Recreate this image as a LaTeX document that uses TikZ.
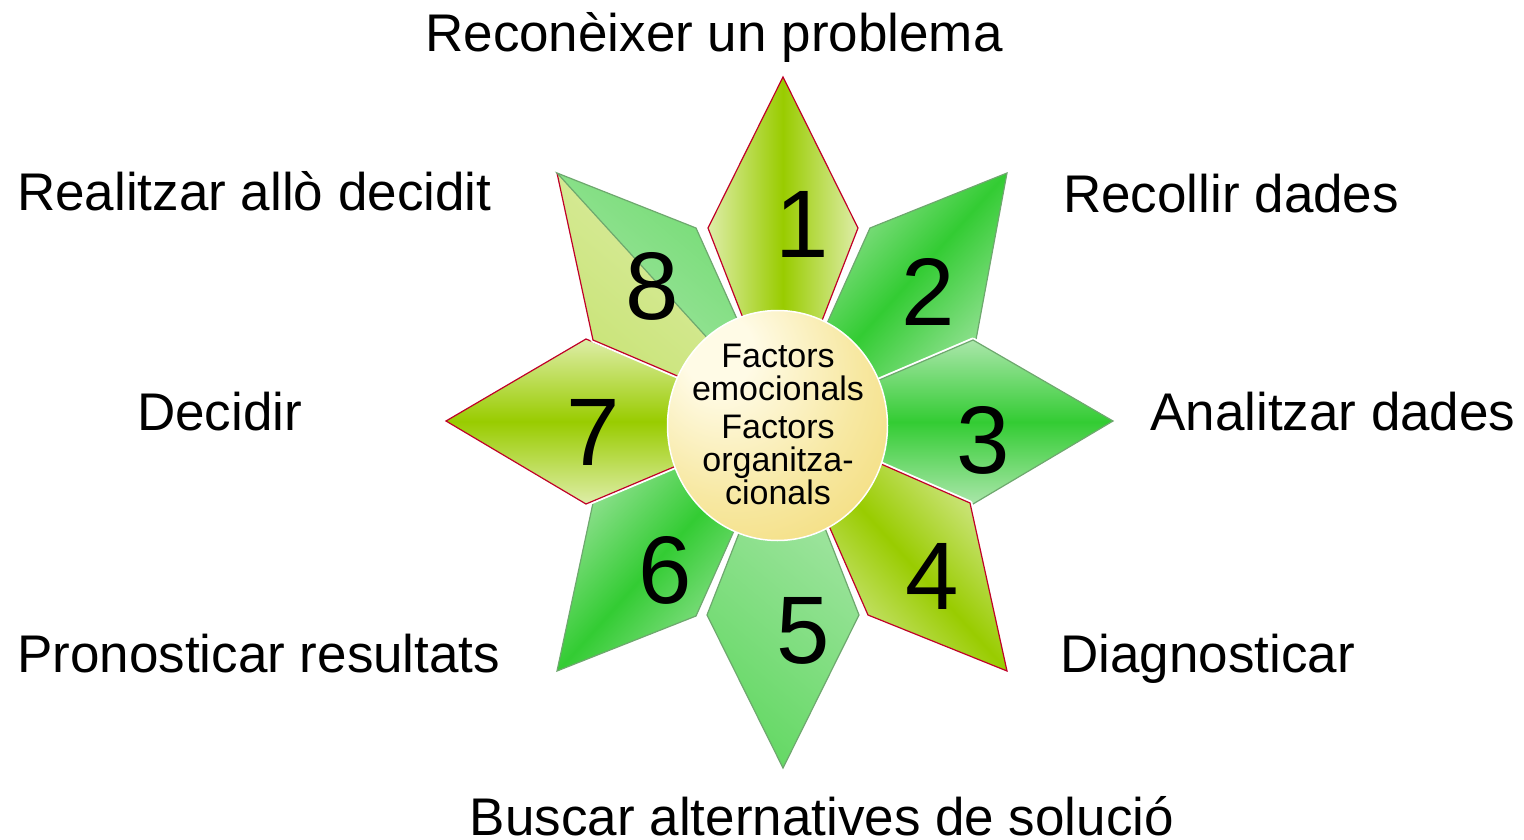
\documentclass[tikz,border=0pt]{standalone}
\usepackage{fontspec}
\setmainfont{Liberation Sans}
\definecolor{jaunevif}{RGB}{153,204,0}
\definecolor{jauneclair}{RGB}{222,237,168}
\definecolor{vertvif}{RGB}{51,204,51}
\definecolor{vertclair}{RGB}{170,230,170}
\definecolor{rougebord}{RGB}{192,0,40}
\definecolor{vertbord}{RGB}{110,168,110}
\definecolor{orclair}{RGB}{255,251,230}
\definecolor{ormoyen}{RGB}{247,232,162}
\definecolor{orfonce}{RGB}{240,210,88}
\pgfdeclareradialshading{soleil}{\pgfpoint{-15bp}{18bp}}{color(0bp)=(orclair);color(8bp)=(orclair);color(28bp)=(ormoyen);color(56bp)=(orfonce);color(80bp)=(orfonce)}
\begin{document}
\begin{tikzpicture}[x=1pt,y=-1pt]
% Styles
\tikzstyle{liseret}=[draw=white,line width=5pt,line join=round]
\tikzstyle{bord}=[line width=1.2pt,line join=miter]
\tikzstyle{jaune}=[bord,draw=rougebord,top color=jauneclair,bottom color=jauneclair,middle color=jaunevif]
\tikzstyle{vert}=[bord,draw=vertbord,top color=vertclair,bottom color=vertclair,middle color=vertvif]
\tikzstyle{chiffre}=[inner sep=0pt,font=\fontsize{96}{96}\selectfont]
\tikzstyle{etape}=[inner sep=0pt,font=\fontsize{53}{60}\selectfont]
\useasboundingbox (0,0) rectangle (1524,840);
% Centre
\coordinate (C) at (783,421);
% Pointes et coins des pétales
\coordinate (p1) at (783,77);   \coordinate (p1a) at (708,228); \coordinate (p1b) at (858,228);
\coordinate (p2) at (1007,173); \coordinate (p2a) at (870,228); \coordinate (p2b) at (975,345);
\coordinate (p3) at (1113,421); \coordinate (p3a) at (973,340); \coordinate (p3b) at (973,504);
\coordinate (p4) at (1007,671); \coordinate (p4a) at (970,503); \coordinate (p4b) at (868,615);
\coordinate (p5) at (783,768);  \coordinate (p5a) at (859,615); \coordinate (p5b) at (707,615);
\coordinate (p6) at (557,671);  \coordinate (p6a) at (696,616); \coordinate (p6b) at (593,503);
\coordinate (p7) at (446,421);  \coordinate (p7a) at (586,504); \coordinate (p7b) at (586,339);
\coordinate (p8) at (557,173);  \coordinate (p8a) at (593,340); \coordinate (p8b) at (696,228);
% Pétales
\def\petale#1#2#3#4{%
  \draw[liseret] (#2) -- (#3) -- (C) -- (#4) -- cycle;
  \draw[#1] (#2) -- (#3) -- (C) -- (#4) -- cycle;}
\petale{jaune,shading angle=90}{p1}{p1a}{p1b}
\petale{vert,shading angle=48}{p2}{p2a}{p2b}
\petale{vert,shading angle=0}{p3}{p3a}{p3b}
\petale{jaune,shading angle=-48}{p4}{p4a}{p4b}
\petale{bord,draw=vertbord,top color=vertclair,bottom color=vertvif!75!white,shading angle=-40}{p5}{p5a}{p5b}
\petale{vert,shading angle=48}{p6}{p6a}{p6b}
\petale{jaune,shading angle=0}{p7}{p7a}{p7b}
% Pétale 8 en deux moitiés
\draw[liseret] (p8) -- (p8a) -- (C) -- (p8b) -- cycle;
\shade[left color=jauneclair,right color=jaunevif!55!white,shading angle=-40] (p8) -- (p8a) -- (C) -- cycle;
\draw[bord,draw=rougebord] (p8) -- (p8a) -- (C);
\draw[bord,draw=vertbord,left color=vertvif!70!white,right color=vertclair,shading angle=-40] (p8) -- (p8b) -- (C) -- cycle;
% Disque central
\shadedraw[shading=soleil,draw=white,line width=1.5pt] (777.5,425.5) ellipse [x radius=110pt,y radius=115pt];
\node[font=\fontsize{34}{33}\selectfont,align=center,inner sep=0pt] (facteurs) at (778,424)
  {Factors\\emocionals\\[5pt]Factors\\organitza-\\cionals};
% Numéros
\node[chiffre] (n1) at (802,224) {1};
\node[chiffre] (n2) at (928,292) {2};
\node[chiffre] (n3) at (983,440) {3};
\node[chiffre] (n4) at (932,576) {4};
\node[chiffre] (n5) at (803,631) {5};
\node[chiffre] (n6) at (665,570) {6};
\node[chiffre] (n7) at (593,432) {7};
\node[chiffre] (n8) at (652,286) {8};
% Étapes
\node[etape,anchor=base] (reconeixer) at (714,52) {Reconèixer un problema};
\node[etape,anchor=base west] (recollir) at (1063,212) {Recollir dades};
\node[etape,anchor=base west] (analitzar) at (1150,430) {Analitzar dades};
\node[etape,anchor=base west] (diagnosticar) at (1060,672) {Diagnosticar};
\node[etape,anchor=base] (buscar) at (822,835) {Buscar alternatives de solució};
\node[etape,anchor=base west] (pronosticar) at (17,672) {Pronosticar resultats};
\node[etape,anchor=base west] (decidir) at (137,430) {Decidir};
\node[etape,anchor=base west] (realitzar) at (17,210) {Realitzar allò decidit};
\end{tikzpicture}
\end{document}
